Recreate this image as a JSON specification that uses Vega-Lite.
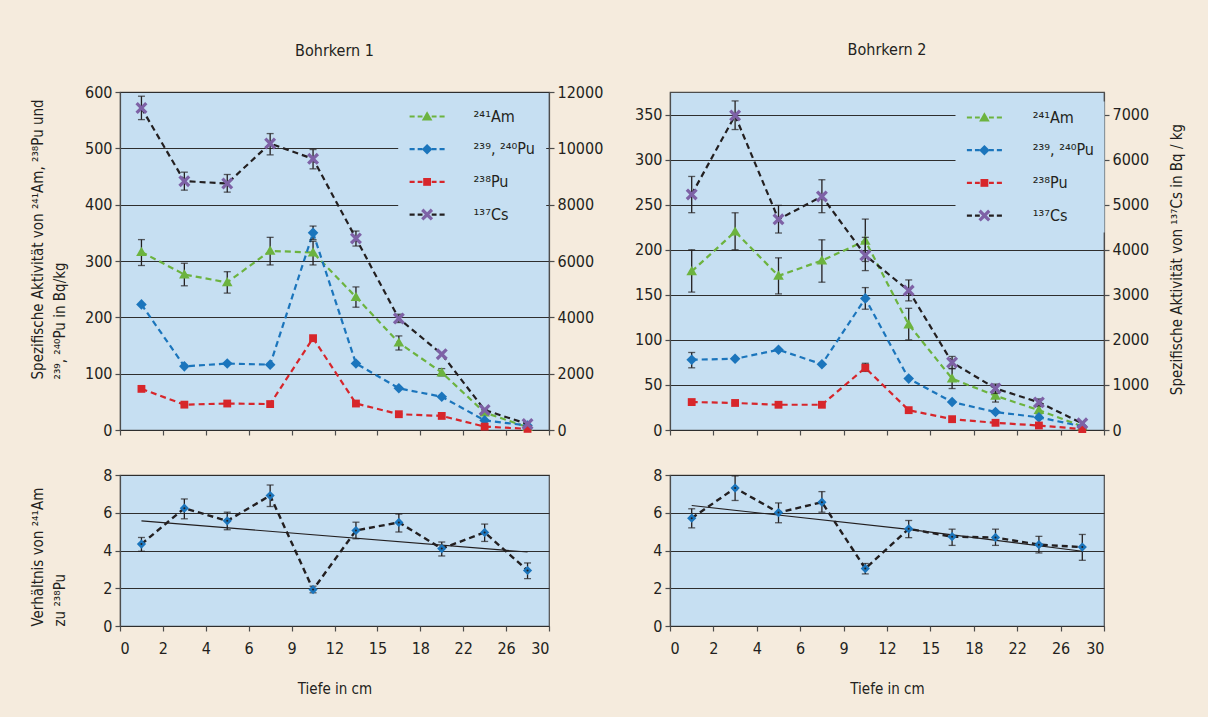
{
"$schema":"https://vega.github.io/schema/vega-lite/v6.json",
"background":"#f5ebdd",
"padding":{"left":29,"top":41,"right":23,"bottom":20},
"config":{
 "font":"DejaVu Sans Condensed, Roboto, sans-serif",
 "view":{"fill":"#c6dff2","stroke":"#4d4d4d","strokeWidth":1.2},
 "axis":{"labelFontSize":16,"labelColor":"#231f20","titleFontSize":15,"titleFontWeight":"normal","titleColor":"#231f20","domainColor":"#4d4d4d","domainWidth":1.2,"tickColor":"#4d4d4d","tickWidth":1.2,"tickSize":5,"gridColor":"#2e2e2e","gridWidth":1.1,"labelPadding":3},
 "title":{"fontSize":16,"fontWeight":"normal","color":"#231f20"},
 "legend":{"labelLimit":300}
},
"datasets":{
 "act":[
  {"core":"Bohrkern 1","nuclide":"²⁴¹Am","depth":1,"value":316,"lo":292,"hi":338},
  {"core":"Bohrkern 1","nuclide":"²⁴¹Am","depth":3,"value":276,"lo":256,"hi":296},
  {"core":"Bohrkern 1","nuclide":"²⁴¹Am","depth":5,"value":262,"lo":243,"hi":281},
  {"core":"Bohrkern 1","nuclide":"²⁴¹Am","depth":7.5,"value":318,"lo":293,"hi":342},
  {"core":"Bohrkern 1","nuclide":"²⁴¹Am","depth":10.5,"value":315,"lo":293,"hi":335},
  {"core":"Bohrkern 1","nuclide":"²⁴¹Am","depth":13.5,"value":236,"lo":218,"hi":254},
  {"core":"Bohrkern 1","nuclide":"²⁴¹Am","depth":16.5,"value":155,"lo":142,"hi":167},
  {"core":"Bohrkern 1","nuclide":"²⁴¹Am","depth":20,"value":102,"lo":96,"hi":109},
  {"core":"Bohrkern 1","nuclide":"²⁴¹Am","depth":24,"value":31,"lo":26,"hi":36},
  {"core":"Bohrkern 1","nuclide":"²⁴¹Am","depth":28,"value":5},
  {"core":"Bohrkern 1","nuclide":"²³⁹, ²⁴⁰Pu","depth":1,"value":223},
  {"core":"Bohrkern 1","nuclide":"²³⁹, ²⁴⁰Pu","depth":3,"value":113},
  {"core":"Bohrkern 1","nuclide":"²³⁹, ²⁴⁰Pu","depth":5,"value":118},
  {"core":"Bohrkern 1","nuclide":"²³⁹, ²⁴⁰Pu","depth":7.5,"value":116},
  {"core":"Bohrkern 1","nuclide":"²³⁹, ²⁴⁰Pu","depth":10.5,"value":350,"lo":338,"hi":362},
  {"core":"Bohrkern 1","nuclide":"²³⁹, ²⁴⁰Pu","depth":13.5,"value":118},
  {"core":"Bohrkern 1","nuclide":"²³⁹, ²⁴⁰Pu","depth":16.5,"value":74},
  {"core":"Bohrkern 1","nuclide":"²³⁹, ²⁴⁰Pu","depth":20,"value":59},
  {"core":"Bohrkern 1","nuclide":"²³⁹, ²⁴⁰Pu","depth":24,"value":17},
  {"core":"Bohrkern 1","nuclide":"²³⁹, ²⁴⁰Pu","depth":28,"value":8},
  {"core":"Bohrkern 1","nuclide":"²³⁸Pu","depth":1,"value":73},
  {"core":"Bohrkern 1","nuclide":"²³⁸Pu","depth":3,"value":45},
  {"core":"Bohrkern 1","nuclide":"²³⁸Pu","depth":5,"value":47},
  {"core":"Bohrkern 1","nuclide":"²³⁸Pu","depth":7.5,"value":46},
  {"core":"Bohrkern 1","nuclide":"²³⁸Pu","depth":10.5,"value":163},
  {"core":"Bohrkern 1","nuclide":"²³⁸Pu","depth":13.5,"value":47},
  {"core":"Bohrkern 1","nuclide":"²³⁸Pu","depth":16.5,"value":28},
  {"core":"Bohrkern 1","nuclide":"²³⁸Pu","depth":20,"value":25},
  {"core":"Bohrkern 1","nuclide":"²³⁸Pu","depth":24,"value":6},
  {"core":"Bohrkern 1","nuclide":"²³⁸Pu","depth":28,"value":2},
  {"core":"Bohrkern 1","nuclide":"¹³⁷Cs","depth":1,"value":11430,"lo":11020,"hi":11850},
  {"core":"Bohrkern 1","nuclide":"¹³⁷Cs","depth":3,"value":8835,"lo":8516,"hi":9154},
  {"core":"Bohrkern 1","nuclide":"¹³⁷Cs","depth":5,"value":8752,"lo":8445,"hi":9071},
  {"core":"Bohrkern 1","nuclide":"¹³⁷Cs","depth":7.5,"value":10170,"lo":9768,"hi":10524},
  {"core":"Bohrkern 1","nuclide":"¹³⁷Cs","depth":10.5,"value":9626,"lo":9272,"hi":9957},
  {"core":"Bohrkern 1","nuclide":"¹³⁷Cs","depth":13.5,"value":6803,"lo":6531,"hi":7063},
  {"core":"Bohrkern 1","nuclide":"¹³⁷Cs","depth":16.5,"value":3957,"lo":3815,"hi":4110},
  {"core":"Bohrkern 1","nuclide":"¹³⁷Cs","depth":20,"value":2693},
  {"core":"Bohrkern 1","nuclide":"¹³⁷Cs","depth":24,"value":709},
  {"core":"Bohrkern 1","nuclide":"¹³⁷Cs","depth":28,"value":213},
  {"core":"Bohrkern 2","nuclide":"²⁴¹Am","depth":1,"value":176,"lo":153,"hi":200},
  {"core":"Bohrkern 2","nuclide":"²⁴¹Am","depth":3,"value":220,"lo":200,"hi":241},
  {"core":"Bohrkern 2","nuclide":"²⁴¹Am","depth":5,"value":171,"lo":151,"hi":191},
  {"core":"Bohrkern 2","nuclide":"²⁴¹Am","depth":7.5,"value":188,"lo":164,"hi":211},
  {"core":"Bohrkern 2","nuclide":"²⁴¹Am","depth":10.5,"value":210,"lo":187,"hi":234},
  {"core":"Bohrkern 2","nuclide":"²⁴¹Am","depth":13.5,"value":117,"lo":100,"hi":135},
  {"core":"Bohrkern 2","nuclide":"²⁴¹Am","depth":16.5,"value":57,"lo":46,"hi":68},
  {"core":"Bohrkern 2","nuclide":"²⁴¹Am","depth":20,"value":38,"lo":31,"hi":44},
  {"core":"Bohrkern 2","nuclide":"²⁴¹Am","depth":24,"value":22,"lo":18,"hi":26},
  {"core":"Bohrkern 2","nuclide":"²⁴¹Am","depth":28,"value":4},
  {"core":"Bohrkern 2","nuclide":"²³⁹, ²⁴⁰Pu","depth":1,"value":78,"lo":69,"hi":86},
  {"core":"Bohrkern 2","nuclide":"²³⁹, ²⁴⁰Pu","depth":3,"value":79},
  {"core":"Bohrkern 2","nuclide":"²³⁹, ²⁴⁰Pu","depth":5,"value":89},
  {"core":"Bohrkern 2","nuclide":"²³⁹, ²⁴⁰Pu","depth":7.5,"value":73},
  {"core":"Bohrkern 2","nuclide":"²³⁹, ²⁴⁰Pu","depth":10.5,"value":146,"lo":134,"hi":158},
  {"core":"Bohrkern 2","nuclide":"²³⁹, ²⁴⁰Pu","depth":13.5,"value":57},
  {"core":"Bohrkern 2","nuclide":"²³⁹, ²⁴⁰Pu","depth":16.5,"value":31},
  {"core":"Bohrkern 2","nuclide":"²³⁹, ²⁴⁰Pu","depth":20,"value":20},
  {"core":"Bohrkern 2","nuclide":"²³⁹, ²⁴⁰Pu","depth":24,"value":14},
  {"core":"Bohrkern 2","nuclide":"²³⁹, ²⁴⁰Pu","depth":28,"value":4},
  {"core":"Bohrkern 2","nuclide":"²³⁸Pu","depth":1,"value":31},
  {"core":"Bohrkern 2","nuclide":"²³⁸Pu","depth":3,"value":30},
  {"core":"Bohrkern 2","nuclide":"²³⁸Pu","depth":5,"value":28},
  {"core":"Bohrkern 2","nuclide":"²³⁸Pu","depth":7.5,"value":28},
  {"core":"Bohrkern 2","nuclide":"²³⁸Pu","depth":10.5,"value":69,"lo":65,"hi":74},
  {"core":"Bohrkern 2","nuclide":"²³⁸Pu","depth":13.5,"value":22},
  {"core":"Bohrkern 2","nuclide":"²³⁸Pu","depth":16.5,"value":12},
  {"core":"Bohrkern 2","nuclide":"²³⁸Pu","depth":20,"value":8},
  {"core":"Bohrkern 2","nuclide":"²³⁸Pu","depth":24,"value":5},
  {"core":"Bohrkern 2","nuclide":"²³⁸Pu","depth":28,"value":1},
  {"core":"Bohrkern 2","nuclide":"¹³⁷Cs","depth":1,"value":5228,"lo":4822,"hi":5626},
  {"core":"Bohrkern 2","nuclide":"¹³⁷Cs","depth":3,"value":6978,"lo":6667,"hi":7302},
  {"core":"Bohrkern 2","nuclide":"¹³⁷Cs","depth":5,"value":4674,"lo":4371,"hi":4984},
  {"core":"Bohrkern 2","nuclide":"¹³⁷Cs","depth":7.5,"value":5183,"lo":4822,"hi":5553},
  {"core":"Bohrkern 2","nuclide":"¹³⁷Cs","depth":10.5,"value":3876,"lo":3537,"hi":4275},
  {"core":"Bohrkern 2","nuclide":"¹³⁷Cs","depth":13.5,"value":3094,"lo":2865,"hi":3330},
  {"core":"Bohrkern 2","nuclide":"¹³⁷Cs","depth":16.5,"value":1499,"lo":1366,"hi":1632},
  {"core":"Bohrkern 2","nuclide":"¹³⁷Cs","depth":20,"value":923,"lo":812,"hi":1019},
  {"core":"Bohrkern 2","nuclide":"¹³⁷Cs","depth":24,"value":613,"lo":540,"hi":690},
  {"core":"Bohrkern 2","nuclide":"¹³⁷Cs","depth":28,"value":148}
 ],
 "ratio":[
  {"core":"Bohrkern 1","depth":1,"ratio":4.34,"lo":3.96,"hi":4.69},
  {"core":"Bohrkern 1","depth":3,"ratio":6.24,"lo":5.68,"hi":6.73},
  {"core":"Bohrkern 1","depth":5,"ratio":5.57,"lo":5.10,"hi":6.03},
  {"core":"Bohrkern 1","depth":7.5,"ratio":6.91,"lo":6.33,"hi":7.47},
  {"core":"Bohrkern 1","depth":10.5,"ratio":1.93,"lo":1.76,"hi":2.11},
  {"core":"Bohrkern 1","depth":13.5,"ratio":5.06,"lo":4.62,"hi":5.50},
  {"core":"Bohrkern 1","depth":16.5,"ratio":5.49,"lo":4.98,"hi":5.93},
  {"core":"Bohrkern 1","depth":20,"ratio":4.10,"lo":3.71,"hi":4.45},
  {"core":"Bohrkern 1","depth":24,"ratio":4.96,"lo":4.48,"hi":5.40},
  {"core":"Bohrkern 1","depth":28,"ratio":2.94,"lo":2.51,"hi":3.34},
  {"core":"Bohrkern 2","depth":1,"ratio":5.71,"lo":5.20,"hi":6.21},
  {"core":"Bohrkern 2","depth":3,"ratio":7.31,"lo":6.65,"hi":7.95},
  {"core":"Bohrkern 2","depth":5,"ratio":6.01,"lo":5.47,"hi":6.52},
  {"core":"Bohrkern 2","depth":7.5,"ratio":6.56,"lo":6.03,"hi":7.12},
  {"core":"Bohrkern 2","depth":10.5,"ratio":3.04,"lo":2.76,"hi":3.31},
  {"core":"Bohrkern 2","depth":13.5,"ratio":5.15,"lo":4.68,"hi":5.59},
  {"core":"Bohrkern 2","depth":16.5,"ratio":4.73,"lo":4.27,"hi":5.13},
  {"core":"Bohrkern 2","depth":20,"ratio":4.69,"lo":4.27,"hi":5.13},
  {"core":"Bohrkern 2","depth":24,"ratio":4.31,"lo":3.87,"hi":4.75},
  {"core":"Bohrkern 2","depth":28,"ratio":4.18,"lo":3.48,"hi":4.85}
 ],
 "trend":[
  {"core":"Bohrkern 1","depth":1,"ratio":5.57},
  {"core":"Bohrkern 1","depth":28,"ratio":3.92},
  {"core":"Bohrkern 2","depth":1,"ratio":6.38},
  {"core":"Bohrkern 2","depth":13.5,"ratio":5.12},
  {"core":"Bohrkern 2","depth":28,"ratio":3.96}
 ]
},
"hconcat":[
 {"vconcat":[
  {"width":429,"height":338,
   "title":{"text":"Bohrkern 1","frame":"group","offset":25},
   "data":{"name":"act"},
   "transform":[{"filter":"datum.core === 'Bohrkern 1'"}],
   "encoding":{"x":{"field":"depth","type":"quantitative","scale":{"domain":[0,2,4,6,9,12,15,18,22,26,30],"range":[0,42.9,85.8,128.7,171.6,214.5,257.4,300.3,343.2,386.1,429],"nice":false,"zero":false},"axis":{"values":[0,2,4,6,9,12,15,18,22,26,30],"labels":false,"ticks":true,"domain":false,"grid":false,"title":null}}},
   "layer":[
    {"transform":[{"filter":"datum.nuclide !== '¹³⁷Cs'"}],
     "encoding":{"y":{"field":"value","type":"quantitative","scale":{"domain":[0,600],"nice":false},"axis":{"orient":"left","values":[0,100,200,300,400,500,600],"grid":true,"title":["Spezifische Aktivität von ²⁴¹Am, ²³⁸Pu und","²³⁹, ²⁴⁰Pu in Bq/kg"],"titleX":-90,"titleY":287,"titleAlign":"left","titleBaseline":"top","titleAngle":270,"titleLineHeight":22}}},
     "layer":[
      {"mark":{"type":"line","strokeDash":[6,4],"strokeWidth":2.2},
       "encoding":{
        "stroke":{"field":"nuclide","type":"nominal","scale":{"domain":["¹³⁷Cs","²⁴¹Am","²³⁹, ²⁴⁰Pu","²³⁸Pu"],"range":["#231f20","#6cb33f","#1b75bc","#d7262b"]},"legend":{"orient":"none","legendX":278.2,"legendY":8.5,"title":null,"padding":8,"fillColor":"#c6dff2","values":["²⁴¹Am","²³⁹, ²⁴⁰Pu","²³⁸Pu","¹³⁷Cs"],"symbolType":"M-3.8,0H-2.7M-2.05,0H-1M1,0H2.05M2.7,0H3.8","symbolSize":85,"symbolOffset":12.9,"symbolStrokeWidth":2.2,"symbolDash":[1,0],"symbolFillColor":"transparent","labelExpr":"' '","labelColor":"transparent","labelFontSize":16,"labelOffset":102.6,"rowPadding":16.7}}}},
      {"transform":[{"filter":"datum.lo != null"}],
       "mark":{"type":"errorbar","ticks":true,"color":"#231f20","thickness":1.3,"size":7},
       "encoding":{"y":{"field":"lo","type":"quantitative","scale":{"domain":[0,600],"nice":false},"axis":{"orient":"left","values":[0,100,200,300,400,500,600],"grid":true,"title":["Spezifische Aktivität von ²⁴¹Am, ²³⁸Pu und","²³⁹, ²⁴⁰Pu in Bq/kg"],"titleX":-90,"titleY":287,"titleAlign":"left","titleBaseline":"top","titleAngle":270,"titleLineHeight":22}},"y2":{"field":"hi"}}},
      {"mark":{"type":"point","filled":true,"size":85,"opacity":1,"strokeWidth":0},
       "encoding":{
        "fill":{"field":"nuclide","type":"nominal","scale":{"domain":["²⁴¹Am","²³⁹, ²⁴⁰Pu","²³⁸Pu","¹³⁷Cs"],"range":["#6cb33f","#1b75bc","#d7262b","#7e62a6"]},"legend":{"orient":"none","legendX":278.2,"legendY":8.5,"title":null,"padding":8,"symbolSize":85,"symbolOffset":12.9,"symbolStrokeWidth":0,"labelFontSize":16,"labelOffset":38.5,"rowPadding":16.7,"labelColor":"#231f20"}},
        "shape":{"field":"nuclide","type":"nominal","scale":{"domain":["²⁴¹Am","²³⁹, ²⁴⁰Pu","²³⁸Pu","¹³⁷Cs"],"range":["M0,-1.15L1.15,0.85L-1.15,0.85Z","M0,-1.15L1.15,0L0,1.15L-1.15,0Z","M-0.85,-0.85H0.85V0.85H-0.85Z","M-1.3,-0.8L-0.8,-1.3L0,-0.5L0.8,-1.3L1.3,-0.8L0.5,0L1.3,0.8L0.8,1.3L0,0.5L-0.8,1.3L-1.3,0.8L-0.5,0Z"]},"legend":{"orient":"none","legendX":278.2,"legendY":8.5,"title":null,"padding":8,"symbolSize":85,"symbolOffset":12.9,"symbolStrokeWidth":0,"labelFontSize":16,"labelOffset":38.5,"rowPadding":16.7,"labelColor":"#231f20"}}}}
     ]},
    {"transform":[{"filter":"datum.nuclide === '¹³⁷Cs'"}],
     "encoding":{"y":{"field":"value","type":"quantitative","scale":{"domain":[0,12000],"nice":false},"axis":{"orient":"right","values":[0,2000,4000,6000,8000,10000,12000],"grid":false,"title":null,"format":"d"}}},
     "layer":[
      {"mark":{"type":"line","strokeDash":[6,4],"strokeWidth":2.2},
       "encoding":{
        "stroke":{"field":"nuclide","type":"nominal","scale":{"domain":["¹³⁷Cs","²⁴¹Am","²³⁹, ²⁴⁰Pu","²³⁸Pu"],"range":["#231f20","#6cb33f","#1b75bc","#d7262b"]},"legend":{"orient":"none","legendX":278.2,"legendY":8.5,"title":null,"padding":8,"fillColor":"#c6dff2","values":["²⁴¹Am","²³⁹, ²⁴⁰Pu","²³⁸Pu","¹³⁷Cs"],"symbolType":"M-3.8,0H-2.7M-2.05,0H-1M1,0H2.05M2.7,0H3.8","symbolSize":85,"symbolOffset":12.9,"symbolStrokeWidth":2.2,"symbolDash":[1,0],"symbolFillColor":"transparent","labelExpr":"' '","labelColor":"transparent","labelFontSize":16,"labelOffset":102.6,"rowPadding":16.7}}}},
      {"transform":[{"filter":"datum.lo != null"}],
       "mark":{"type":"errorbar","ticks":true,"color":"#231f20","thickness":1.3,"size":7},
       "encoding":{"y":{"field":"lo","type":"quantitative","scale":{"domain":[0,12000],"nice":false},"axis":{"orient":"right","values":[0,2000,4000,6000,8000,10000,12000],"grid":false,"title":null,"format":"d"}},"y2":{"field":"hi"}}},
      {"mark":{"type":"point","filled":true,"size":85,"opacity":1,"strokeWidth":0},
       "encoding":{
        "fill":{"field":"nuclide","type":"nominal","scale":{"domain":["²⁴¹Am","²³⁹, ²⁴⁰Pu","²³⁸Pu","¹³⁷Cs"],"range":["#6cb33f","#1b75bc","#d7262b","#7e62a6"]},"legend":{"orient":"none","legendX":278.2,"legendY":8.5,"title":null,"padding":8,"symbolSize":85,"symbolOffset":12.9,"symbolStrokeWidth":0,"labelFontSize":16,"labelOffset":38.5,"rowPadding":16.7,"labelColor":"#231f20"}},
        "shape":{"field":"nuclide","type":"nominal","scale":{"domain":["²⁴¹Am","²³⁹, ²⁴⁰Pu","²³⁸Pu","¹³⁷Cs"],"range":["M0,-1.15L1.15,0.85L-1.15,0.85Z","M0,-1.15L1.15,0L0,1.15L-1.15,0Z","M-0.85,-0.85H0.85V0.85H-0.85Z","M-1.3,-0.8L-0.8,-1.3L0,-0.5L0.8,-1.3L1.3,-0.8L0.5,0L1.3,0.8L0.8,1.3L0,0.5L-0.8,1.3L-1.3,0.8L-0.5,0Z"]},"legend":{"orient":"none","legendX":278.2,"legendY":8.5,"title":null,"padding":8,"symbolSize":85,"symbolOffset":12.9,"symbolStrokeWidth":0,"labelFontSize":16,"labelOffset":38.5,"rowPadding":16.7,"labelColor":"#231f20"}}}}
     ]}
   ],
   "resolve":{"scale":{"y":"independent"}}
  },
  {"width":429,"height":151,
   "encoding":{
    "x":{"field":"depth","type":"quantitative","scale":{"domain":[0,2,4,6,9,12,15,18,22,26,30],"range":[0,42.9,85.8,128.7,171.6,214.5,257.4,300.3,343.2,386.1,429],"nice":false,"zero":false},"axis":{"values":[0,2,4,6,9,12,15,18,22,26,30],"labels":true,"ticks":true,"domain":false,"grid":false,"title":"Tiefe in cm","titlePadding":25,"labelPadding":9}},
    "y":{"field":"ratio","type":"quantitative","scale":{"domain":[0,8],"nice":false},"axis":{"values":[0,2,4,6,8],"grid":true,"title":["Verhältnis von ²⁴¹Am","zu ²³⁸Pu"],"titleX":-90,"titleY":151,"titleAlign":"left","titleBaseline":"top","titleAngle":270,"titleLineHeight":22}}},
   "layer":[
    {"data":{"name":"trend"},"transform":[{"filter":"datum.core === 'Bohrkern 1'"}],
     "mark":{"type":"line","color":"#231f20","strokeWidth":1.1}},
    {"data":{"name":"ratio"},"transform":[{"filter":"datum.core === 'Bohrkern 1'"}],
     "mark":{"type":"line","color":"#231f20","strokeWidth":2.4,"strokeDash":[6,4]}},
    {"data":{"name":"ratio"},"transform":[{"filter":"datum.core === 'Bohrkern 1'"}],
     "mark":{"type":"errorbar","ticks":true,"color":"#231f20","thickness":1.3,"size":7},
     "encoding":{"y":{"field":"lo","type":"quantitative","scale":{"domain":[0,8],"nice":false},"axis":{"values":[0,2,4,6,8],"grid":true,"title":["Verhältnis von ²⁴¹Am","zu ²³⁸Pu"],"titleX":-90,"titleY":151,"titleAlign":"left","titleBaseline":"top","titleAngle":270,"titleLineHeight":22}},"y2":{"field":"hi"}}},
    {"data":{"name":"ratio"},"transform":[{"filter":"datum.core === 'Bohrkern 1'"}],
     "mark":{"type":"point","shape":"diamond","filled":true,"color":"#1b75bc","size":85,"opacity":1}},
    {"data":{"name":"ratio"},"transform":[{"filter":"datum.core === 'Bohrkern 1'"}],
     "mark":{"type":"point","shape":"circle","filled":true,"color":"#231f20","size":4,"opacity":1}}
   ]
  }
 ],
 "spacing":27,
 "resolve":{"scale":{"stroke":"independent","fill":"independent","shape":"independent"}}
 },
 {"vconcat":[
  {"width":434,"height":338,
   "title":{"text":"Bohrkern 2","frame":"group","offset":34},
   "data":{"name":"act"},
   "transform":[{"filter":"datum.core === 'Bohrkern 2'"}],
   "encoding":{"x":{"field":"depth","type":"quantitative","scale":{"domain":[0,2,4,6,9,12,15,18,22,26,30],"range":[0,43.4,86.8,130.2,173.6,217,260.4,303.8,347.2,390.6,434],"nice":false,"zero":false},"axis":{"values":[0,2,4,6,9,12,15,18,22,26,30],"labels":false,"ticks":true,"domain":false,"grid":false,"title":null}}},
   "layer":[
    {"transform":[{"filter":"datum.nuclide !== '¹³⁷Cs'"}],
     "encoding":{"y":{"field":"value","type":"quantitative","scale":{"domain":[0,375],"nice":false},"axis":{"orient":"left","values":[0,50,100,150,200,250,300,350],"grid":true,"title":null}}},
     "layer":[
      {"mark":{"type":"line","strokeDash":[6,4],"strokeWidth":2.2},
       "encoding":{
        "stroke":{"field":"nuclide","type":"nominal","scale":{"domain":["¹³⁷Cs","²⁴¹Am","²³⁹, ²⁴⁰Pu","²³⁸Pu"],"range":["#231f20","#6cb33f","#1b75bc","#d7262b"]},"legend":{"orient":"none","legendX":285.5,"legendY":9.5,"title":null,"padding":8,"fillColor":"#c6dff2","values":["²⁴¹Am","²³⁹, ²⁴⁰Pu","²³⁸Pu","¹³⁷Cs"],"symbolType":"M-3.8,0H-2.7M-2.05,0H-1M1,0H2.05M2.7,0H3.8","symbolSize":85,"symbolOffset":12.9,"symbolStrokeWidth":2.2,"symbolDash":[1,0],"symbolFillColor":"transparent","labelExpr":"' '","labelColor":"transparent","labelFontSize":16,"labelOffset":103.3,"rowPadding":16.7}}}},
      {"transform":[{"filter":"datum.lo != null"}],
       "mark":{"type":"errorbar","ticks":true,"color":"#231f20","thickness":1.3,"size":7},
       "encoding":{"y":{"field":"lo","type":"quantitative","scale":{"domain":[0,375],"nice":false},"axis":{"orient":"left","values":[0,50,100,150,200,250,300,350],"grid":true,"title":null}},"y2":{"field":"hi"}}},
      {"mark":{"type":"point","filled":true,"size":85,"opacity":1,"strokeWidth":0},
       "encoding":{
        "fill":{"field":"nuclide","type":"nominal","scale":{"domain":["²⁴¹Am","²³⁹, ²⁴⁰Pu","²³⁸Pu","¹³⁷Cs"],"range":["#6cb33f","#1b75bc","#d7262b","#7e62a6"]},"legend":{"orient":"none","legendX":285.5,"legendY":9.5,"title":null,"padding":8,"symbolSize":85,"symbolOffset":12.9,"symbolStrokeWidth":0,"labelFontSize":16,"labelOffset":40.3,"rowPadding":16.7,"labelColor":"#231f20"}},
        "shape":{"field":"nuclide","type":"nominal","scale":{"domain":["²⁴¹Am","²³⁹, ²⁴⁰Pu","²³⁸Pu","¹³⁷Cs"],"range":["M0,-1.15L1.15,0.85L-1.15,0.85Z","M0,-1.15L1.15,0L0,1.15L-1.15,0Z","M-0.85,-0.85H0.85V0.85H-0.85Z","M-1.3,-0.8L-0.8,-1.3L0,-0.5L0.8,-1.3L1.3,-0.8L0.5,0L1.3,0.8L0.8,1.3L0,0.5L-0.8,1.3L-1.3,0.8L-0.5,0Z"]},"legend":{"orient":"none","legendX":285.5,"legendY":9.5,"title":null,"padding":8,"symbolSize":85,"symbolOffset":12.9,"symbolStrokeWidth":0,"labelFontSize":16,"labelOffset":40.3,"rowPadding":16.7,"labelColor":"#231f20"}}}}
     ]},
    {"transform":[{"filter":"datum.nuclide === '¹³⁷Cs'"}],
     "encoding":{"y":{"field":"value","type":"quantitative","scale":{"domain":[0,7500],"nice":false},"axis":{"orient":"right","values":[0,1000,2000,3000,4000,5000,6000,7000],"grid":false,"format":"d","title":"Spezifische Aktivität von ¹³⁷Cs in Bq / kg","titleX":65,"titleY":167,"titleAlign":"center","titleBaseline":"top","titleAngle":270}}},
     "layer":[
      {"mark":{"type":"line","strokeDash":[6,4],"strokeWidth":2.2},
       "encoding":{
        "stroke":{"field":"nuclide","type":"nominal","scale":{"domain":["¹³⁷Cs","²⁴¹Am","²³⁹, ²⁴⁰Pu","²³⁸Pu"],"range":["#231f20","#6cb33f","#1b75bc","#d7262b"]},"legend":{"orient":"none","legendX":285.5,"legendY":9.5,"title":null,"padding":8,"fillColor":"#c6dff2","values":["²⁴¹Am","²³⁹, ²⁴⁰Pu","²³⁸Pu","¹³⁷Cs"],"symbolType":"M-3.8,0H-2.7M-2.05,0H-1M1,0H2.05M2.7,0H3.8","symbolSize":85,"symbolOffset":12.9,"symbolStrokeWidth":2.2,"symbolDash":[1,0],"symbolFillColor":"transparent","labelExpr":"' '","labelColor":"transparent","labelFontSize":16,"labelOffset":103.3,"rowPadding":16.7}}}},
      {"transform":[{"filter":"datum.lo != null"}],
       "mark":{"type":"errorbar","ticks":true,"color":"#231f20","thickness":1.3,"size":7},
       "encoding":{"y":{"field":"lo","type":"quantitative","scale":{"domain":[0,7500],"nice":false},"axis":{"orient":"right","values":[0,1000,2000,3000,4000,5000,6000,7000],"grid":false,"format":"d","title":"Spezifische Aktivität von ¹³⁷Cs in Bq / kg","titleX":65,"titleY":167,"titleAlign":"center","titleBaseline":"top","titleAngle":270}},"y2":{"field":"hi"}}},
      {"mark":{"type":"point","filled":true,"size":85,"opacity":1,"strokeWidth":0},
       "encoding":{
        "fill":{"field":"nuclide","type":"nominal","scale":{"domain":["²⁴¹Am","²³⁹, ²⁴⁰Pu","²³⁸Pu","¹³⁷Cs"],"range":["#6cb33f","#1b75bc","#d7262b","#7e62a6"]},"legend":{"orient":"none","legendX":285.5,"legendY":9.5,"title":null,"padding":8,"symbolSize":85,"symbolOffset":12.9,"symbolStrokeWidth":0,"labelFontSize":16,"labelOffset":40.3,"rowPadding":16.7,"labelColor":"#231f20"}},
        "shape":{"field":"nuclide","type":"nominal","scale":{"domain":["²⁴¹Am","²³⁹, ²⁴⁰Pu","²³⁸Pu","¹³⁷Cs"],"range":["M0,-1.15L1.15,0.85L-1.15,0.85Z","M0,-1.15L1.15,0L0,1.15L-1.15,0Z","M-0.85,-0.85H0.85V0.85H-0.85Z","M-1.3,-0.8L-0.8,-1.3L0,-0.5L0.8,-1.3L1.3,-0.8L0.5,0L1.3,0.8L0.8,1.3L0,0.5L-0.8,1.3L-1.3,0.8L-0.5,0Z"]},"legend":{"orient":"none","legendX":285.5,"legendY":9.5,"title":null,"padding":8,"symbolSize":85,"symbolOffset":12.9,"symbolStrokeWidth":0,"labelFontSize":16,"labelOffset":40.3,"rowPadding":16.7,"labelColor":"#231f20"}}}}
     ]}
   ],
   "resolve":{"scale":{"y":"independent"}}
  },
  {"width":434,"height":151,
   "encoding":{
    "x":{"field":"depth","type":"quantitative","scale":{"domain":[0,2,4,6,9,12,15,18,22,26,30],"range":[0,43.4,86.8,130.2,173.6,217,260.4,303.8,347.2,390.6,434],"nice":false,"zero":false},"axis":{"values":[0,2,4,6,9,12,15,18,22,26,30],"labels":true,"ticks":true,"domain":false,"grid":false,"title":"Tiefe in cm","titlePadding":25,"labelPadding":9}},
    "y":{"field":"ratio","type":"quantitative","scale":{"domain":[0,8],"nice":false},"axis":{"values":[0,2,4,6,8],"grid":true,"title":null}}},
   "layer":[
    {"data":{"name":"trend"},"transform":[{"filter":"datum.core === 'Bohrkern 2'"}],
     "mark":{"type":"line","color":"#231f20","strokeWidth":1.1}},
    {"data":{"name":"ratio"},"transform":[{"filter":"datum.core === 'Bohrkern 2'"}],
     "mark":{"type":"line","color":"#231f20","strokeWidth":2.4,"strokeDash":[6,4]}},
    {"data":{"name":"ratio"},"transform":[{"filter":"datum.core === 'Bohrkern 2'"}],
     "mark":{"type":"errorbar","ticks":true,"color":"#231f20","thickness":1.3,"size":7},
     "encoding":{"y":{"field":"lo","type":"quantitative","scale":{"domain":[0,8],"nice":false},"axis":{"values":[0,2,4,6,8],"grid":true,"title":null}},"y2":{"field":"hi"}}},
    {"data":{"name":"ratio"},"transform":[{"filter":"datum.core === 'Bohrkern 2'"}],
     "mark":{"type":"point","shape":"diamond","filled":true,"color":"#1b75bc","size":85,"opacity":1}},
    {"data":{"name":"ratio"},"transform":[{"filter":"datum.core === 'Bohrkern 2'"}],
     "mark":{"type":"point","shape":"circle","filled":true,"color":"#231f20","size":4,"opacity":1}}
   ]
  }
 ],
 "spacing":27,
 "resolve":{"scale":{"stroke":"independent","fill":"independent","shape":"independent"}}
 }
],
"spacing":29,
"resolve":{"scale":{"stroke":"independent","fill":"independent","shape":"independent"}}
}
